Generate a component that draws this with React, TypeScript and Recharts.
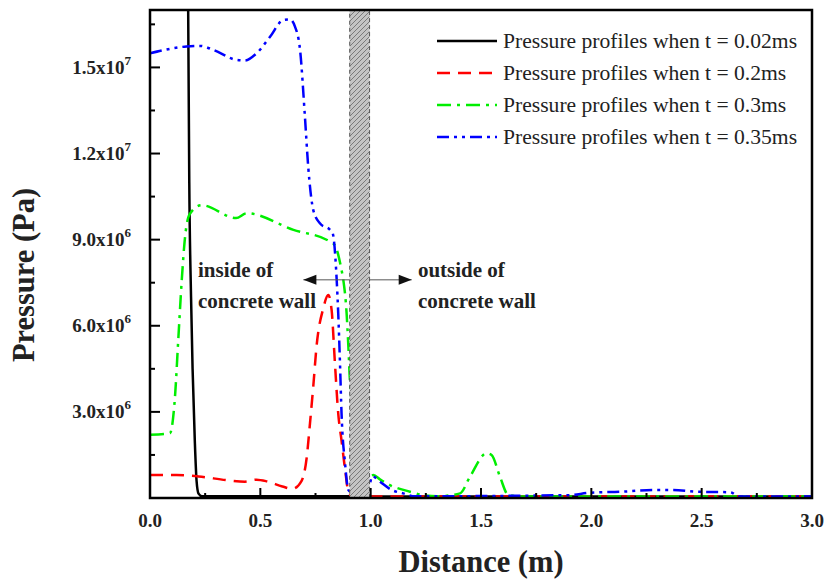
import React from "react";
import {
  LineChart,
  Line,
  XAxis,
  YAxis,
  ReferenceArea,
  ReferenceLine,
  ReferenceDot,
  Legend,
  Label,
} from "recharts";

const FONT = "'Times New Roman', 'Liberation Serif', serif";

// the axis labels reach the page edges, so drop the default body margin and pad ourselves
if (typeof document !== "undefined") document.body.style.margin = "0";

// distance in m, pressure in units of 1e6 Pa
const dist002 = [0.173, 0.178, 0.186, 0.193, 0.203, 0.211, 0.22, 0.235, 0.5, 0.9, 1.0, 1.5, 2.0, 2.5, 3.0];
const pres002 = [17.0, 11.0, 7.0, 4.5, 2.0, 0.6, 0.15, 0.06, 0.06, 0.06, 0.05, 0.05, 0.05, 0.05, 0.05];

const dist02 = [0, 0.12, 0.22, 0.35, 0.43, 0.483, 0.53, 0.6, 0.645, 0.687, 0.71, 0.725, 0.74, 0.755, 0.785, 0.808, 0.823, 0.838, 0.853, 0.868, 0.884, 0.899, 0.92, 1.0, 1.5, 2.0, 2.5, 3.0];
const pres02 = [0.8, 0.8, 0.75, 0.62, 0.57, 0.64, 0.58, 0.4, 0.32, 0.6, 1.4, 2.6, 3.9, 5.3, 6.6, 7.07, 6.55, 4.7, 2.95, 2.0, 1.0, 0.22, 0.05, 0.05, 0.05, 0.05, 0.05, 0.05];

const dist03 = [0, 0.09, 0.113, 0.128, 0.144, 0.159, 0.181, 0.234, 0.39, 0.438, 0.65, 0.816, 0.838, 0.868, 0.876, 0.891, 0.899, 0.906, 0.95, 1.0, 1.012, 1.042, 1.087, 1.178, 1.237, 1.3, 1.405, 1.45, 1.526, 1.548, 1.586, 1.624, 1.7, 2.0, 2.5, 3.0];
const pres03 = [2.2, 2.25, 3.5, 5.5, 7.6, 9.1, 9.9, 10.2, 9.75, 9.92, 9.34, 8.93, 8.8, 7.94, 7.6, 6.43, 5.27, 4.1, 1.6, 0.75, 0.8, 0.65, 0.45, 0.22, 0.1, 0.06, 0.16, 0.74, 1.56, 1.5, 0.74, 0.1, 0.05, 0.05, 0.05, 0.05];

const dist035 = [0, 0.166, 0.227, 0.287, 0.393, 0.43, 0.483, 0.544, 0.604, 0.634, 0.657, 0.68, 0.702, 0.717, 0.74, 0.77, 0.816, 0.828, 0.846, 0.853, 0.861, 0.868, 0.884, 0.899, 0.95, 0.997, 1.006, 1.042, 1.095, 1.148, 1.2, 1.9, 1.99, 2.14, 2.28, 2.37, 2.48, 2.63, 2.67, 3.0];
const pres035 = [15.49, 15.73, 15.75, 15.61, 15.26, 15.24, 15.49, 16.07, 16.65, 16.67, 16.42, 15.61, 13.29, 11.54, 10.03, 9.57, 9.34, 9.22, 7.6, 6.43, 4.69, 2.95, 1.2, 0.28, 0.05, 0.51, 0.76, 0.57, 0.28, 0.16, 0.06, 0.1, 0.18, 0.22, 0.28, 0.28, 0.22, 0.2, 0.05, 0.05];

const xTicks = [0, 0.25, 0.5, 0.75, 1, 1.25, 1.5, 1.75, 2, 2.25, 2.5, 2.75, 3];
const yTicks = [1.5, 3, 4.5, 6, 7.5, 9, 10.5, 12, 13.5, 15, 16.5];

const zip = (xs: number[], ps: number[]) => xs.map((x, i) => ({ x, p: ps[i] }));

const series = [
  { name: "Pressure profiles when t = 0.02ms", data: zip(dist002, pres002), color: "#000000", dash: undefined },
  { name: "Pressure profiles when t = 0.2ms", data: zip(dist02, pres02), color: "#ff0000", dash: "13 8" },
  { name: "Pressure profiles when t = 0.3ms", data: zip(dist03, pres03), color: "#00ee00", dash: "14 6 3 6" },
  { name: "Pressure profiles when t = 0.35ms", data: zip(dist035, pres035), color: "#0000ff", dash: "12 5 3 5 3 5" },
];

const XTick = (props: any) => {
  const { x, y, payload } = props;
  const v = payload.value;
  const major = Math.abs(v * 2 - Math.round(v * 2)) < 1e-6;
  return (
    <g>
      <line x1={x} x2={x} y1={y} y2={y - (major ? 10 : 5)} stroke="#000" strokeWidth={2} />
      {major && (
        <text x={x} y={y + 29} textAnchor="middle" fontFamily={FONT} fontWeight="bold" fontSize={19} fill="#222">
          {v.toFixed(1)}
        </text>
      )}
    </g>
  );
};

const YTick = (props: any) => {
  const { x, y, payload } = props;
  const v = payload.value;
  const major = Math.abs(v / 3 - Math.round(v / 3)) < 1e-6;
  let label = null;
  if (major) {
    const exp = Math.floor(Math.log10(v * 1e6) + 1e-9);
    const mant = (v * 1e6) / 10 ** exp;
    label = (
      <text x={x - 19} y={y + 6.5} textAnchor="end" fontFamily={FONT} fontWeight="bold" fontSize={19} fill="#222">
        {mant.toFixed(1)}x10
        <tspan dy={-9} fontSize={13}>
          {exp}
        </tspan>
      </text>
    );
  }
  return (
    <g>
      <line x1={x} x2={x + (major ? 10 : 5)} y1={y} y2={y} stroke="#000" strokeWidth={2} />
      {label}
    </g>
  );
};

const Arrow = (dir: "left" | "right") => (props: any) => {
  const { x1, y1, x2, y2 } = props;
  const tipX = dir === "left" ? Math.min(x1, x2) : Math.max(x1, x2);
  const back = dir === "left" ? tipX + 13 : tipX - 13;
  return (
    <g>
      <line x1={x1} y1={y1} x2={x2} y2={y2} stroke="#555" strokeWidth={1} />
      <polygon points={`${tipX},${y1} ${back},${y1 - 5} ${back},${y1 + 5}`} fill="#111" />
    </g>
  );
};

const TwoLines = (a: string, b: string) => (props: any) => (
  <text x={props.cx} y={props.cy} fontFamily={FONT} fontWeight="bold" fontSize={21} fill="#222">
    <tspan x={props.cx}>{a}</tspan>
    <tspan x={props.cx} dy={31}>
      {b}
    </tspan>
  </text>
);

const LegendBox = () => (
  <div style={{ fontFamily: FONT, fontSize: 21.6, color: "#222" }}>
    {series.map((s) => (
      <div key={s.name} style={{ display: "flex", alignItems: "center", height: 32 }}>
        <svg width={60} height={10} style={{ marginRight: 6, flex: "none" }}>
          <line x1={0} x2={60} y1={5} y2={5} stroke={s.color} strokeWidth={2.5} strokeDasharray={s.dash} />
        </svg>
        <span style={{ whiteSpace: "nowrap" }}>{s.name}</span>
      </div>
    ))}
  </div>
);

export default function App() {
  return (
    <div style={{ width: 819, height: 571, paddingLeft: 8, paddingTop: 8 }}>
      <LineChart width={819} height={571} margin={{ top: 2, right: 15, left: 0, bottom: 0 }}>
        <defs>
          <pattern id="hatch" patternUnits="userSpaceOnUse" width={5} height={5}>
            <rect width={5} height={5} fill="#c4c4c4" />
            <path d="M0,5 L5,0 M-1,1 L1,-1 M4,6 L6,4" stroke="#7a7a7a" strokeWidth={1} />
          </pattern>
        </defs>
        <XAxis
          type="number"
          dataKey="x"
          domain={[0, 3]}
          ticks={xTicks}
          interval={0}
          allowDataOverflow
          height={81}
          tickSize={0}
          tickMargin={0}
          tickLine={false}
          axisLine={false}
          tick={<XTick />}
        >
          <Label
            content={(p: any) => (
              <text
                x={p.viewBox.x + p.viewBox.width / 2}
                y={p.viewBox.y + 74}
                textAnchor="middle"
                fontFamily={FONT}
                fontWeight="bold"
                fontSize={30.5}
                fill="#222"
              >
                Distance (m)
              </text>
            )}
          />
        </XAxis>
        <YAxis
          type="number"
          domain={[0, 17]}
          ticks={yTicks}
          interval={0}
          allowDataOverflow
          width={142}
          tickSize={0}
          tickMargin={0}
          tickLine={false}
          axisLine={false}
          tick={<YTick />}
        >
          <Label
            content={(p: any) => {
              const cx = p.viewBox.x + 26;
              const cy = p.viewBox.y + p.viewBox.height / 2 + 21;
              return (
                <text
                  x={cx}
                  y={cy}
                  transform={`rotate(-90 ${cx} ${cy})`}
                  textAnchor="middle"
                  fontFamily={FONT}
                  fontWeight="bold"
                  fontSize={30.5}
                  fill="#222"
                >
                  Pressure (Pa)
                </text>
              );
            }}
          />
        </YAxis>
        <Legend
          layout="horizontal"
          verticalAlign="middle"
          align="center"
          content={<LegendBox />}
          wrapperStyle={{ left: 429, top: 17, width: 385, height: 130 }}
        />
        {series.map((s) => (
          <Line
            key={s.name}
            data={s.data}
            dataKey="p"
            name={s.name}
            type="monotone"
            stroke={s.color}
            strokeWidth={2.5}
            strokeDasharray={s.dash}
            dot={false}
            activeDot={false}
            isAnimationActive={false}
          />
        ))}
        <ReferenceArea
          x1={0.905}
          x2={0.995}
          y1={0}
          y2={17}
          fill="url(#hatch)"
          fillOpacity={1}
          stroke="#555"
          strokeDasharray="4 3"
          strokeWidth={1}
          zIndex={450}
        />
        <ReferenceLine
          segment={[
            { x: 0.695, y: 7.6 },
            { x: 0.905, y: 7.6 },
          ]}
          shape={Arrow("left")}
          zIndex={450}
        />
        <ReferenceLine
          segment={[
            { x: 0.995, y: 7.6 },
            { x: 1.186, y: 7.6 },
          ]}
          shape={Arrow("right")}
          zIndex={450}
        />
        <ReferenceDot x={0.2175} y={7.7} r={0} shape={TwoLines("inside of", "concrete wall")} zIndex={450} />
        <ReferenceDot x={1.214} y={7.7} r={0} shape={TwoLines("outside of", "concrete wall")} zIndex={450} />
        <ReferenceArea x1={0} x2={3} y1={0} y2={17} fill="none" stroke="#000" strokeWidth={2.5} zIndex={500} />
      </LineChart>
    </div>
  );
}
